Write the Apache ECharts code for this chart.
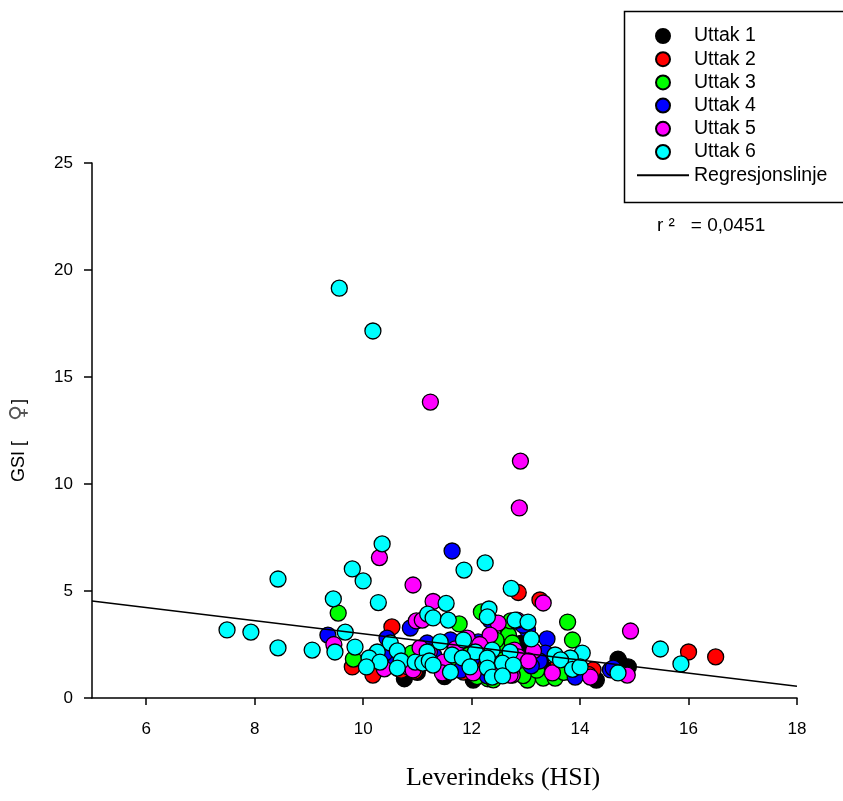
<!DOCTYPE html>
<html>
<head>
<meta charset="utf-8">
<script src="https://cdn.jsdelivr.net/npm/echarts@6/dist/echarts.min.js"></script>
<style>html,body{margin:0;padding:0;background:#fff}#c{width:843px;height:801px}</style>
</head>
<body>
<div id="c"></div>
<script>
// ---- data ----
const seriesNames = ['Uttak 1','Uttak 2','Uttak 3','Uttak 4','Uttak 5','Uttak 6'];
const lineName = 'Regresjonslinje';
const xTicks = [6, 8, 10, 12, 14, 16, 18];
const yTicks = [0, 5, 10, 15, 20, 25];
const rSquaredText = 'r \u00b2   = 0,0451';
const xTitle = 'Leverindeks (HSI)';

const uttak1 = [[10.76,0.9],[12.03,0.84],[14.3,0.84],[14.26,0.93],[14.7,1.82],[14.89,1.45],[11.9,1.3],[12.2,1.1],
  [12.9,2.55],[13.3,1.5],[14.0,1.2],[11.0,1.2],[13.6,1.3],[12.5,1.2],[14.75,1.6],[11.5,1.0]];
const uttak2 = [[9.8,1.45],[10.18,1.07],[10.53,3.32],[12.86,4.93],[13.26,4.58],[16.0,2.15],[16.5,1.92],[14.24,1.31],
  [11.85,1.21],[10.7,1.3],[11.4,1.5],[12.3,1.3],[13.0,1.2],[13.6,1.6],[14.15,1.1],[10.95,1.25],[11.7,1.35],[12.1,1.6],[13.9,1.05]];
const uttak3 = [[9.54,3.97],[9.82,1.82],[10.9,2.1],[11.77,3.46],[12.18,4.02],[12.66,3.27],[12.68,2.94],[12.58,2.38],
  [12.75,2.57],[13.77,3.55],[13.86,2.71],[12.93,1.45],[13.32,0.93],[13.03,0.84],[13.54,0.93],[12.3,0.9],[12.1,1.0],
  [12.6,1.8],[12.2,2.2],[11.95,2.0],[12.85,2.0],[13.2,1.3],[12.45,2.7],[12.3,1.5],[11.6,1.4],[12.72,3.6],[12.95,1.05],
  [13.7,1.2],[12.4,0.85]];
const uttak4 = [[9.35,2.94],[10.87,3.27],[10.44,2.8],[11.64,6.87],[12.34,3.64],[12.12,2.62],[11.61,2.71],[11.18,2.57],
  [12.29,1.03],[13.03,3.18],[13.39,2.76],[13.36,2.1],[13.25,1.73],[13.91,0.98],[14.56,1.31],[14.61,1.4],[10.6,1.6],
  [11.3,2.0],[10.4,2.1],[12.0,1.8],[12.5,1.6],[13.1,1.5],[11.8,1.3],[12.95,3.4]];
const uttak5 = [[11.24,13.83],[12.9,11.07],[12.88,8.88],[10.3,6.56],[10.92,5.28],[11.29,4.51],[13.32,4.44],[14.93,3.13],
  [9.46,2.5],[10.98,3.6],[11.05,2.34],[10.39,1.36],[10.83,1.45],[10.92,1.31],[11.09,3.64],[12.49,3.5],[12.34,2.94],
  [11.92,2.8],[11.22,2.15],[11.48,1.68],[12.47,1.45],[11.46,1.17],[12.03,1.17],[12.75,1.07],[12.84,3.64],[12.79,2.24],
  [13.14,2.2],[12.86,1.92],[13.05,1.73],[12.71,1.07],[13.49,1.17],[14.19,0.98],[14.87,1.07],[11.7,2.3],[12.15,2.5]];
const uttak6 = [[9.56,19.15],[10.18,17.15],[10.35,7.2],[12.25,6.31],[9.8,6.03],[11.86,5.98],[8.43,5.56],[10.0,5.47],
  [12.73,5.12],[9.45,4.63],[10.28,4.46],[11.53,4.42],[7.49,3.18],[7.93,3.08],[8.43,2.34],[9.06,2.24],[9.67,3.08],
  [9.48,2.15],[15.48,2.29],[15.86,1.59],[11.19,3.92],[11.29,3.74],[11.57,3.64],[12.32,4.16],[12.29,3.79],[12.8,3.64],
  [11.85,2.71],[11.42,2.62],[10.5,2.57],[9.85,2.38],[10.26,2.15],[10.63,2.2],[11.18,2.15],[10.11,1.87],[10.31,1.68],
  [10.06,1.45],[10.7,1.73],[10.63,1.4],[10.96,1.68],[11.1,1.63],[11.22,1.73],[11.64,2.01],[12.07,2.15],[12.38,2.24],
  [12.71,2.15],[11.29,1.54],[11.83,1.87],[11.97,1.45],[12.29,1.87],[12.57,1.63],[12.29,1.4],[12.77,1.54],[11.61,1.21],
  [12.38,0.98],[12.57,1.03],[13.04,3.55],[13.1,2.76],[13.54,2.01],[14.04,2.1],[13.82,1.87],[13.64,1.78],[13.86,1.34],
  [14.0,1.45],[14.7,1.17]];
const regression = [[5, 4.53], [18, 0.55]];
const colors = ['#000000','#ff0000','#00ff00','#0000ff','#ff00ff','#00ffff'];

// ---- chart ----
const allSeriesData = [uttak1, uttak2, uttak3, uttak4, uttak5, uttak6];
const font = '"Liberation Sans", Arial, sans-serif';
const chart = echarts.init(document.getElementById('c'), null, {renderer: 'canvas'});

const series = allSeriesData.map((d, i) => ({
  name: seriesNames[i],
  type: 'scatter',
  data: d,
  symbol: 'circle',
  symbolSize: 16,
  itemStyle: {color: colors[i], borderColor: '#000', borderWidth: 1.3, opacity: 1},
  z: 2 + i
}));
series.push({
  name: lineName,
  type: 'line',
  data: regression,
  symbol: 'none',
  lineStyle: {color: '#000', width: 1.5},
  itemStyle: {color: '#000'},
  z: 20,
  silent: true
});

chart.setOption({
  animation: false,
  backgroundColor: '#fff',
  textStyle: {fontFamily: font},
  grid: {left: 92, right: 46, top: 163, bottom: 103, containLabel: false},
  xAxis: {
    type: 'value', min: 5, max: 18,
    splitLine: {show: false},
    axisLine: {onZero: false, lineStyle: {color: '#000', width: 1.5}},
    axisTick: {show: true, length: 7, lineStyle: {color: '#000', width: 1.5}, customValues: xTicks},
    axisLabel: {color: '#000', fontSize: 17, fontFamily: font, margin: 23, customValues: xTicks}
  },
  yAxis: {
    type: 'value', min: 0, max: 25, interval: 5,
    splitLine: {show: false},
    axisLine: {show: true, lineStyle: {color: '#000', width: 1.5}},
    axisTick: {show: true, length: 8, lineStyle: {color: '#000', width: 1.5}},
    axisLabel: {color: '#000', fontSize: 17, fontFamily: font, margin: 19},
    name: '{a|GSI [}{b|\u2640}{a|]}', nameLocation: 'middle', nameGap: 62, nameRotate: 90,
    nameTextStyle: {
      color: '#000', fontSize: 18, fontFamily: font, padding: [0, 20, 0, 0],
      rich: {
        a: {color: '#000', fontSize: 18, fontFamily: font},
        b: {color: '#555', fontSize: 22, fontFamily: '"DejaVu Sans", sans-serif', padding: [0, 1, 0, 20]}
      }
    }
  },
  legend: {
    orient: 'vertical', left: 636, top: 26, padding: 0,
    itemWidth: 52, itemHeight: 14, itemGap: 3.2,
    data: seriesNames.map(n => ({name: n, icon: 'circle'})).concat([
      {name: lineName, itemStyle: {opacity: 0, color: 'rgba(0,0,0,0)', borderWidth: 0}}
    ]),
    textStyle: {color: '#000', fontSize: 19.5, fontFamily: font, lineHeight: 19}
  },
  graphic: [
    {type: 'rect', left: 622, top: 9, shape: {width: 240, height: 191},
     style: {fill: 'none', stroke: '#000', lineWidth: 1.5}, z: 0},
    {type: 'text', left: 657, top: 216,
     style: {text: rSquaredText, font: '19px "Liberation Sans", Arial, sans-serif', fill: '#000'}},
    {type: 'text', x: 503, y: 778,
     style: {text: xTitle, font: '26px "Liberation Serif", "Times New Roman", serif', fill: '#000',
             textAlign: 'center', textVerticalAlign: 'middle'}}
  ],
  series: series
});
</script>
</body>
</html>
